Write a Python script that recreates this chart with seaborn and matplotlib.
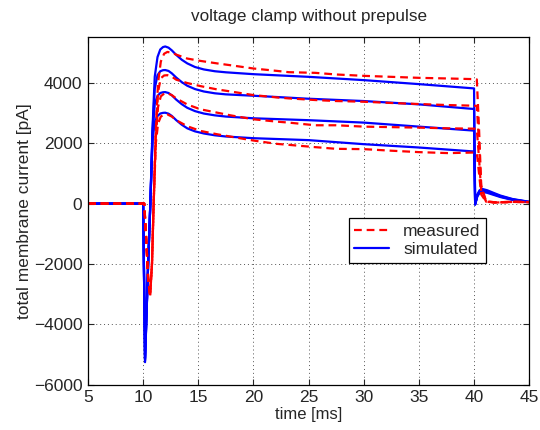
import matplotlib
matplotlib.use("Agg")
import matplotlib.pyplot as plt
from matplotlib.lines import Line2D
import seaborn as sns
import pandas as pd

# ---- data ----
T_SIM = [5, 10.0, 10.17, 10.45, 10.65, 10.85, 11.05, 11.3, 11.55, 11.8,
         12.0, 12.3, 12.6, 13.0, 13.5, 14.0, 14.7, 15.5, 16.5, 17.5,
         20, 25, 30, 35, 40, 40.1, 40.3, 40.5, 40.75, 41.2,
         41.8, 42.4, 43.5, 45]
SIM_1 = [0, 0, -5250, -2000, 0, 2500, 4200, 4850, 5100, 5180,
         5200, 5160, 5070, 4920, 4760, 4640, 4520, 4440, 4380, 4345,
         4283, 4195, 4086, 3954, 3812, -30, 300, 440, 484, 440,
         350, 264, 150, 60]
SIM_2 = [0, 0, -5200, -2000, 0, 2400, 3800, 4250, 4380, 4415,
         4420, 4390, 4310, 4170, 4020, 3900, 3790, 3710, 3650, 3615,
         3569, 3470, 3394, 3284, 3130, -30, 280, 410, 450, 410,
         325, 245, 140, 55]
SIM_3 = [0, 0, -5150, -2000, 0, 2300, 3300, 3560, 3660, 3685,
         3690, 3660, 3580, 3440, 3290, 3170, 3060, 2980, 2920, 2880,
         2823, 2760, 2680, 2547, 2415, -25, 260, 380, 420, 380,
         305, 230, 130, 50]
SIM_4 = [0, 0, -5100, -2000, 0, 2100, 2700, 2900, 2980, 3003,
         3008, 2975, 2900, 2760, 2610, 2490, 2390, 2320, 2260, 2220,
         2164, 2100, 1966, 1856, 1724, -20, 240, 350, 390, 355,
         285, 215, 120, 45]

T_MEAS = [5, 10.1, 10.25, 10.45, 10.63, 10.8, 10.95, 11.15, 11.35, 11.6,
          11.9, 12.2, 12.6, 13.0, 14.0, 15.2, 16.7, 17.9, 20.0, 22.1,
          23.2, 25.6, 27.5, 30.0, 32.5, 35.0, 37.7, 40.0, 40.25, 40.45,
          40.65, 41.1, 42.0, 43.5, 45.0]
MEAS_1 = [0, 0, -1000, -2500, -3100, -2000, 0, 2500, 4000, 4700,
          4960, 5020, 4990, 4930, 4800, 4722, 4640, 4580, 4471, 4393,
          4349, 4327, 4273, 4228, 4195, 4162, 4140, 4119, 4110, 2500,
          600, 70, 40, 60, 50]
MEAS_2 = [0, 0, -1000, -2500, -3050, -2000, 0, 2400, 3700, 4150,
          4240, 4250, 4200, 4100, 3990, 3888, 3779, 3712, 3591, 3514,
          3482, 3427, 3394, 3371, 3330, 3295, 3260, 3240, 3230, 2000,
          500, 70, 40, 60, 50]
MEAS_3 = [0, 0, -1000, -2450, -3000, -2000, 0, 2200, 3200, 3550,
          3640, 3650, 3590, 3480, 3280, 3120, 3010, 2922, 2790, 2713,
          2680, 2592, 2592, 2547, 2530, 2514, 2490, 2480, 2470, 1500,
          400, 60, 35, 55, 45]
MEAS_4 = [0, 0, -1000, -2400, -2950, -2000, 0, 2000, 2650, 2880,
          2945, 2950, 2880, 2760, 2560, 2405, 2295, 2218, 2086, 1977,
          1944, 1868, 1812, 1802, 1750, 1703, 1670, 1690, 1680, 1000,
          300, 60, 35, 55, 45]

X_TICKS = [5, 10, 15, 20, 25, 30, 35, 40, 45]
Y_TICKS = [-6000, -4000, -2000, 0, 2000, 4000]
TITLE = "voltage clamp without prepulse"
XLABEL = "time [ms]"
YLABEL = "total membrane current [pA]"
LEGEND = ["measured", "simulated"]

# ---- build long-form tables ----
rows = []
for k, ys in enumerate([SIM_1, SIM_2, SIM_3, SIM_4]):
    for t, v in zip(T_SIM, ys):
        rows.append(("simulated", k, t, v))
for k, ys in enumerate([MEAS_1, MEAS_2, MEAS_3, MEAS_4]):
    for t, v in zip(T_MEAS, ys):
        rows.append(("measured", k, t, v))
df = pd.DataFrame(rows, columns=["kind", "curve", "t", "I"])

sns.set_style("ticks")
plt.rcParams["font.family"] = ["Liberation Sans", "DejaVu Sans"]
plt.rcParams["font.size"] = 12.5

fig = plt.figure(figsize=(5.4, 4.3), dpi=100)
ax = fig.add_axes([0.163, 0.105, 0.817, 0.808])

RED = "#ff0000"
BLUE = "#0000ff"
DASH = (0, (3.5, 2.2))

for k in range(4):
    sub = df[(df.kind == "simulated") & (df.curve == k)]
    sns.lineplot(data=sub, x="t", y="I", ax=ax, color=BLUE, lw=1.6,
                 estimator=None, sort=False, legend=False)
for k in range(4):
    sub = df[(df.kind == "measured") & (df.curve == k)]
    sns.lineplot(data=sub, x="t", y="I", ax=ax, color=RED, lw=1.6,
                 estimator=None, sort=False, legend=False,
                 dashes=False, linestyle=DASH)

ax.set_xlim(5, 45)
ax.set_ylim(-6000, 5500)
ax.set_xticks(X_TICKS)
ax.set_yticks(Y_TICKS)
ax.set_yticklabels([("\u2212" + str(abs(v))) if v < 0 else str(v) for v in Y_TICKS])
ax.grid(True, linestyle=(0, (1, 3)), color="#555555", linewidth=0.7)
ax.tick_params(direction="in", top=True, right=True, length=4, labelsize=12.5,
               width=0.8, pad=4)
for s in ax.spines.values():
    s.set_color("black")
    s.set_linewidth(0.9)
ax.set_title(TITLE, fontsize=12.3, pad=12)
ax.set_xlabel(XLABEL, fontsize=12, labelpad=1)
ax.set_ylabel(YLABEL, fontsize=12.5, labelpad=1)

handles = [Line2D([0], [0], color=RED, lw=1.6, linestyle=DASH),
           Line2D([0], [0], color=BLUE, lw=1.6)]
leg = ax.legend(handles, LEGEND, loc="upper left",
                bbox_to_anchor=(0.592, 0.479), frameon=True, fancybox=False,
                edgecolor="black", framealpha=1, fontsize=12.5,
                borderpad=0.3, labelspacing=0.2, handlelength=2.0,
                handletextpad=0.8, borderaxespad=0)
leg.get_frame().set_linewidth(0.9)

fig.savefig("out.png", dpi=100)
